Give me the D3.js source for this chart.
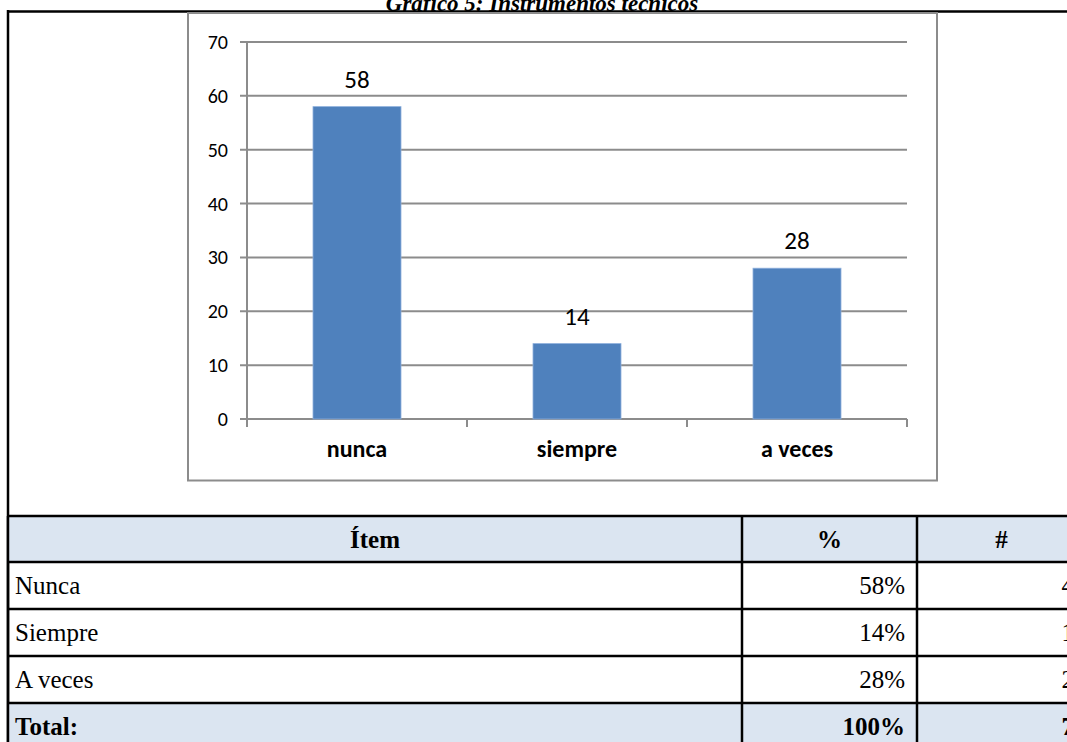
<!DOCTYPE html>
<html>
<head>
<meta charset="utf-8">
<script src="https://cdn.jsdelivr.net/npm/d3@7"></script>
<style>
  html, body { margin: 0; padding: 0; background: #fff; overflow: hidden; }
  svg { display: block; }
  .calib { font-family: Carlito, Calibri, Lato, sans-serif; }
  .serif { font-family: "Liberation Serif", "Times New Roman", serif; }
</style>
</head>
<body>
<svg id="page" width="1067" height="742"></svg>
<script>
// datos del gráfico
const categories = ["nunca", "siempre", "a veces"]
const values = [58, 14, 28]
const yTicks = [0, 10, 20, 30, 40, 50, 60, 70]

// datos de la tabla
const tableHeader = ["Ítem", "%", "#"]
const tableItems = ["Nunca", "Siempre", "A veces"]
const tablePct = ["58%", "14%", "28%"]
const tableCount = ["4", "1", "2"]
const tableTotal = ["Total:", "100%", "7"]

const svg = d3.select("#page")

// título (cortado arriba)
svg.append("text")
  .attr("class", "serif")
  .attr("x", 542).attr("y", 10.5)
  .attr("text-anchor", "middle")
  .style("font-size", "23px").style("font-weight", "bold").style("font-style", "italic")
  .text("Gráfico 5: Instrumentos técnicos")

// marco exterior
svg.append("line").attr("x1", 7).attr("x2", 1067).attr("y1", 11.5).attr("y2", 11.5)
  .attr("stroke", "#000").attr("stroke-width", 2.5)
svg.append("line").attr("x1", 8).attr("x2", 8).attr("y1", 10).attr("y2", 742)
  .attr("stroke", "#000").attr("stroke-width", 2.5)

// caja del gráfico
svg.append("rect").attr("x", 188).attr("y", 13).attr("width", 749).attr("height", 467.5)
  .attr("fill", "#fff").attr("stroke", "#8c8c8c").attr("stroke-width", 2)

const x = d3.scaleBand().domain(categories).range([247, 907]).padding(0)
const y = d3.scaleLinear().domain([0, 70]).range([419, 42])
const barW = x.bandwidth() * 0.4

const g = svg.append("g")

// líneas de división
g.selectAll(".grid").data(yTicks).enter().append("line")
  .attr("class", "grid")
  .attr("x1", 240).attr("x2", 907)
  .attr("y1", (d) => y(d)).attr("y2", (d) => y(d))
  .attr("stroke", "#8c8c8c").attr("stroke-width", 2)

// eje y
g.append("line").attr("x1", 247).attr("x2", 247).attr("y1", y(70)).attr("y2", y(0) + 1)
  .attr("stroke", "#8c8c8c").attr("stroke-width", 2)

g.selectAll(".ylab").data(yTicks).enter().append("text")
  .attr("class", "calib")
  .attr("x", 228).attr("y", (d) => y(d) + 7)
  .attr("text-anchor", "end")
  .style("font-size", "20px").attr("fill", "#000")
  .text((d) => d)

// marcas del eje x en los límites de categoría
const bounds = categories.map((c) => x(c)).concat([x.range()[1]])
g.selectAll(".xtick").data(bounds).enter().append("line")
  .attr("x1", (d) => d).attr("x2", (d) => d)
  .attr("y1", y(0)).attr("y2", y(0) + 8)
  .attr("stroke", "#8c8c8c").attr("stroke-width", 2)

// barras
g.selectAll(".bar").data(values).enter().append("rect")
  .attr("class", "bar")
  .attr("x", (d, i) => x(categories[i]) + (x.bandwidth() - barW) / 2)
  .attr("y", (d) => y(d))
  .attr("width", barW)
  .attr("height", (d) => y(0) - y(d))
  .attr("fill", "#4f81bd").attr("stroke", "#8eb0dc").attr("stroke-width", 0.8)

// etiquetas de datos
g.selectAll(".val").data(values).enter().append("text")
  .attr("class", "calib")
  .attr("x", (d, i) => x(categories[i]) + x.bandwidth() / 2)
  .attr("y", (d) => y(d) - 19)
  .attr("text-anchor", "middle")
  .style("font-size", "25px")
  .text((d) => d)

// nombres de categoría
g.selectAll(".cat").data(categories).enter().append("text")
  .attr("class", "calib")
  .attr("x", (d) => x(d) + x.bandwidth() / 2)
  .attr("y", 457)
  .attr("text-anchor", "middle")
  .style("font-size", "24px").style("font-weight", "bold")
  .text((d) => d)

// tabla
const colX = [8, 742, 917, 1086]
const rowY = [516, 562, 609, 656, 703, 750]
const blue = "#dbe5f1"
const t = svg.append("g").attr("class", "serif")

const rows = [tableHeader]
  .concat(tableItems.map((d, i) => [d, tablePct[i], tableCount[i]]))
  .concat([tableTotal])

rows.forEach((r, ri) => {
  const shaded = ri === 0 || ri === rows.length - 1
  if (shaded) {
    t.append("rect").attr("x", colX[0]).attr("y", rowY[ri])
      .attr("width", colX[3] - colX[0]).attr("height", rowY[ri + 1] - rowY[ri])
      .attr("fill", blue)
  }
  const cy = (rowY[ri] + rowY[ri + 1]) / 2 + 8.5
  r.forEach((txt, ci) => {
    const el = t.append("text").attr("y", cy).style("font-size", "25px").text(txt)
    if (shaded) el.style("font-weight", "bold")
    if (ri === 0) {
      el.attr("x", (colX[ci] + colX[ci + 1]) / 2).attr("text-anchor", "middle")
    } else if (ci === 0) {
      el.attr("x", colX[0] + 7)
    } else {
      el.attr("x", colX[ci + 1] - 12).attr("text-anchor", "end")
    }
  })
})

// líneas de la tabla
t.selectAll(".hl").data(rowY).enter().append("line")
  .attr("x1", colX[0]).attr("x2", 1067)
  .attr("y1", (d) => d).attr("y2", (d) => d)
  .attr("stroke", "#000").attr("stroke-width", 2.5)
t.selectAll(".vl").data(colX).enter().append("line")
  .attr("x1", (d) => d).attr("x2", (d) => d)
  .attr("y1", rowY[0]).attr("y2", 742)
  .attr("stroke", "#000").attr("stroke-width", 2.5)
</script>
</body>
</html>
